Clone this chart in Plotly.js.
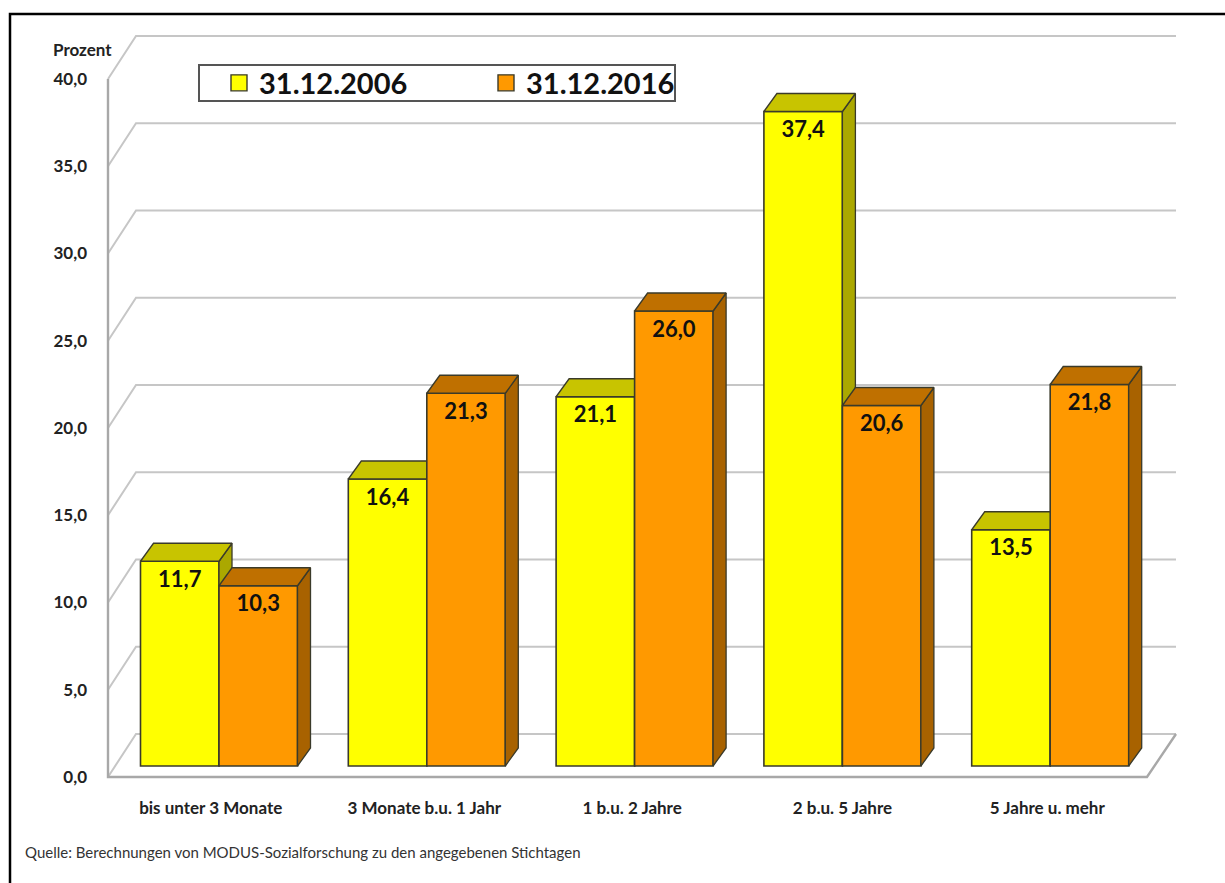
<!DOCTYPE html>
<html><head><meta charset="utf-8">
<script src="https://cdn.plot.ly/plotly-3.0.1.min.js"></script>
<style>html,body{margin:0;padding:0;background:#fff}#chart{width:1225px;height:883px}</style>
</head><body><div id="chart"></div>
<script>
var categories = ["bis unter 3 Monate","3 Monate b.u. 1 Jahr","1 b.u. 2 Jahre","2 b.u. 5 Jahre","5 Jahre u. mehr"];
var seriesNames = ["31.12.2006","31.12.2016"];
var values2006 = [11.7,16.4,21.1,37.4,13.5];
var values2016 = [10.3,21.3,26.0,20.6,21.8];
var yTicks = [0,5,10,15,20,25,30,35,40];

// geometry of the picture, in pixels
var W=1225,H=883, L=100,R=1185,T=30,B=790;
var groupPx=207.8, group0=219;
var axisX0=108, floorFrontRight=1147, axisY0=777, wallRight=1176;
var scaleWall=17.45, scaleBar=17.5, barY0=766;
function ux(p){return p/groupPx;}           // px length -> x units
function xAt(p){return (p-group0)/groupPx;} // px position -> x value
var xRange=[xAt(L),xAt(R)];
var yWall=[(axisY0-B)/scaleWall,(axisY0-T)/scaleWall];
var yBar=[(barY0-B)/scaleBar,(barY0-T)/scaleBar];

var barW=ux(78.5), depX=ux(13), depY=18/scaleBar;
var wallDX=ux(28), wallDY=43/scaleWall;
var fontFam='Lato, Carlito, sans-serif';
var dark='#3a3a2a';

function fmt(v){return v.toFixed(1).replace('.',',');}

// depth faces of a bar series, derived from its values
function faces(vals,off){
  var top={x:[],y:[]}, side={x:[],y:[]};
  vals.forEach(function(v,i){
    var a=i+off, b=a+barW;
    top.x.push(a,b,b+depX,a+depX,a,null);
    top.y.push(v,v,v+depY,v+depY,v,null);
    side.x.push(b,b+depX,b+depX,b,b,null);
    side.y.push(0,depY,v+depY,v,0,null);
  });
  return {top:top,side:side};
}
function series(name,vals,off,yaxis,front,topC,sideC){
  var f=faces(vals,off);
  var common={xaxis:'x',yaxis:yaxis,hoverinfo:'skip',showlegend:false};
  return [
    Object.assign({type:'bar',x:[0,1,2,3,4],y:vals,width:barW,offset:off,
      marker:{color:front,line:{color:dark,width:1.6}},name:name},common),
    Object.assign({type:'scatter',mode:'lines',x:f.side.x,y:f.side.y,fill:'toself',fillcolor:sideC,line:{color:dark,width:1.3}},common),
    Object.assign({type:'scatter',mode:'lines',x:f.top.x,y:f.top.y,fill:'toself',fillcolor:topC,line:{color:dark,width:1.3}},common),
    Object.assign({type:'scatter',mode:'text',x:vals.map(function(v,i){return i+off+barW/2;}),
      y:vals.map(function(v){return v-20/scaleBar;}),text:vals.map(fmt),textposition:'middle center',
      textfont:{family:fontFam,size:22,color:'#111',weight:700}},common),
    {type:'scatter',mode:'markers',x:[null],y:[null],xaxis:'x',yaxis:yaxis,name:name,showlegend:true,hoverinfo:'skip',
      marker:{symbol:'square',size:16,color:front,line:{color:dark,width:1.4}}}
  ];
}

// back wall and floor
var xLeft=xAt(axisX0), xFR=xAt(floorFrontRight), xWR=xAt(wallRight);
var gridX=[],gridY=[];
yTicks.forEach(function(t){
  gridX.push(xLeft,xLeft+wallDX,xWR,null);
  gridY.push(t,t+wallDY,t+wallDY,null);
});
var traces=[
  {type:'scatter',mode:'lines',x:gridX,y:gridY,line:{color:'#c6c6c6',width:2},hoverinfo:'skip',showlegend:false},
  {type:'scatter',mode:'lines',x:[xLeft,xLeft,xFR,xFR+ux(29)],y:[40,0,0,wallDY],line:{color:'#a8a8a8',width:2.4},hoverinfo:'skip',showlegend:false}
];
traces=traces.concat(series(seriesNames[0],values2006,-barW,'y2','#FFFF00','#C8C400','#ABA800'));
traces=traces.concat(series(seriesNames[1],values2016,0,'y3','#FF9900','#BF7000','#A86200'));

var layout={
  width:W,height:H,showlegend:true,paper_bgcolor:'#fff',plot_bgcolor:'rgba(0,0,0,0)',
  margin:{l:L,r:W-R,t:T,b:H-B,pad:0},
  font:{family:fontFam,color:'#222'},
  xaxis:{type:'linear',range:xRange,showgrid:false,zeroline:false,showline:false,ticks:'',
    tickmode:'array',tickvals:[-0.04,-0.012,-0.012,0,-0.014].map(function(d,i){return i+d;}),ticktext:categories,
    ticklabelstandoff:6,tickfont:{family:fontFam,size:17,color:'#222',weight:700}},
  yaxis:{range:yWall,showgrid:false,zeroline:false,showline:false,ticks:'',
    tickmode:'array',tickvals:yTicks,ticktext:yTicks.map(fmt),ticklabelstandoff:12,
    tickfont:{family:fontFam,size:17,color:'#222',weight:700}},
  yaxis2:{range:yBar,overlaying:'y',visible:false},
  yaxis3:{range:yBar,overlaying:'y',visible:false},
  barmode:'overlay',
  legend:{orientation:'h',x:(219-L)/(R-L),xanchor:'left',y:1-(83-T)/(B-T),yanchor:'middle',
    bgcolor:'rgba(0,0,0,0)',borderwidth:0,itemwidth:30,entrywidth:222,entrywidthmode:'pixels',
    itemsizing:'trace',font:{family:fontFam,size:29,color:'#111',weight:700},traceorder:'normal'},
  shapes:[
    {type:'rect',xref:'paper',yref:'paper',layer:'above',
     x0:(199-L)/(R-L),x1:(675-L)/(R-L),y0:1-(65-T)/(B-T),y1:1-(101-T)/(B-T),
     fillcolor:'#fff',line:{color:'#555',width:2}},
    {type:'path',xref:'paper',yref:'paper',layer:'above',
     path:'M '+((10-L)/(R-L))+' '+(1-(H+5-T)/(B-T))+' L '+((10-L)/(R-L))+' '+(1-(14-T)/(B-T))+' L '+((W+5-L)/(R-L))+' '+(1-(14-T)/(B-T)),
     line:{color:'#000',width:2.5}}
  ],
  annotations:[
    {xref:'paper',yref:'paper',x:(114-L)/(R-L),y:1-(50-T)/(B-T),xanchor:'right',yanchor:'middle',showarrow:false,
     text:'Prozent',font:{family:fontFam,size:17,color:'#222',weight:700}},
    {xref:'paper',yref:'paper',x:(23-L)/(R-L),y:1-(852-T)/(B-T),xanchor:'left',yanchor:'middle',showarrow:false,
     text:'Quelle: Berechnungen von MODUS-Sozialforschung zu den angegebenen Stichtagen',
     font:{family:fontFam,size:15,color:'#333'}}
  ]
};
Plotly.newPlot('chart',traces,layout,{displayModeBar:false,staticPlot:true});
</script></body></html>
